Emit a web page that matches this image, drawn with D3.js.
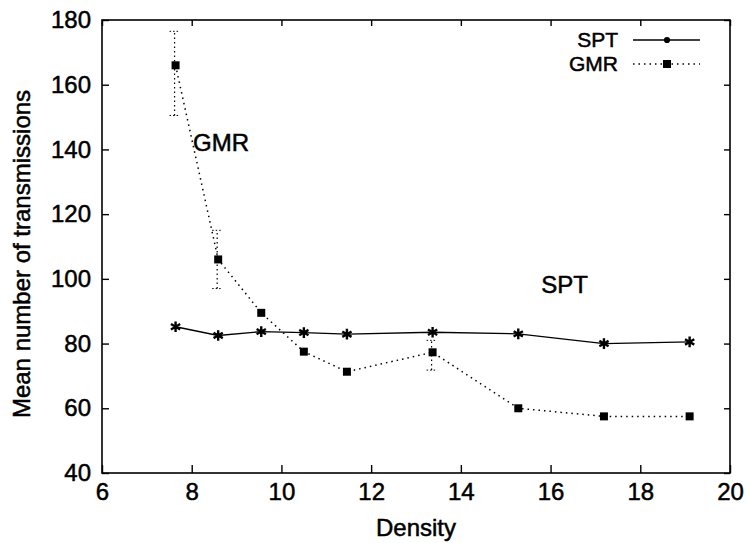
<!DOCTYPE html>
<html>
<head>
<meta charset="utf-8">
<script src="https://cdn.jsdelivr.net/npm/d3@7"></script>
<style>
  body { margin: 0; background: #fff; }
  text { font-family: "Liberation Sans", Arial, sans-serif; fill: #000; }
</style>
</head>
<body>
<svg id="chart"></svg>
<script>
// densities (x) and the two series
var density = [7.64, 8.59, 9.55, 10.50, 11.46, 13.37, 15.28, 17.19, 19.10];
var spt = [85.2, 82.5, 83.7, 83.4, 82.9, 83.5, 83, 80, 80.5];
var gmr = [166, 106, 89.5, 77.5, 71.3, 77.3, 60, 57.5, 57.5];
// GMR error bars (low, high), only where visible
var gmrErrX = [7.64, 8.59, 13.37];
var gmrErrLow = [150.5, 97, 71.8];
var gmrErrHigh = [176.5, 115, 81];

var xTicks = [6, 8, 10, 12, 14, 16, 18, 20];
var yTicks = [40, 60, 80, 100, 120, 140, 160, 180];

var width = 749,
    height = 543,
    margin = {top: 20, right: 19, bottom: 70, left: 102};

var x = d3.scaleLinear().domain([6, 20]).range([margin.left, width - margin.right]);
var y = d3.scaleLinear().domain([40, 180]).range([height - margin.bottom, margin.top]);

var svg = d3.select("#chart")
    .attr("width", width)
    .attr("height", height);

var fs = "24px";

function txt(sel) {
    return sel.style("font-size", fs).style("stroke", "#000").style("stroke-width", 0.5);
}

// frame
svg.append("rect")
    .attr("x", x(6)).attr("y", y(180))
    .attr("width", x(20) - x(6)).attr("height", y(40) - y(180))
    .style("fill", "none").style("stroke", "#000").style("stroke-width", 1.6);

// axes with inward ticks, mirrored on top/right
svg.append("g")
    .attr("transform", "translate(0," + y(40) + ")")
    .call(d3.axisBottom(x).tickValues(xTicks).tickSize(-8).tickPadding(10).tickFormat(d3.format("d")))
    .call(function (g) { g.select(".domain").remove(); });
svg.append("g")
    .attr("transform", "translate(0," + y(180) + ")")
    .call(d3.axisTop(x).tickValues(xTicks).tickSize(-6).tickFormat(""))
    .call(function (g) { g.select(".domain").remove(); });
svg.append("g")
    .attr("transform", "translate(" + x(6) + ",0)")
    .call(d3.axisLeft(y).tickValues(yTicks).tickSize(-7).tickPadding(11).tickFormat(d3.format("d")))
    .call(function (g) { g.select(".domain").remove(); });
svg.append("g")
    .attr("transform", "translate(" + x(20) + ",0)")
    .call(d3.axisRight(y).tickValues(yTicks).tickSize(-6).tickFormat(""))
    .call(function (g) { g.select(".domain").remove(); });

svg.selectAll(".tick line").style("stroke", "#000").style("stroke-width", 1.4);
svg.selectAll(".tick text")
    .style("font-family", "Liberation Sans, Arial, sans-serif")
    .call(txt);

// axis titles
svg.append("text")
    .attr("x", (x(6) + x(20)) / 2).attr("y", 536)
    .attr("text-anchor", "middle")
    .call(txt)
    .text("Density");
svg.append("text")
    .attr("transform", "translate(30,254) rotate(-90)")
    .attr("text-anchor", "middle")
    .call(txt)
    .text("Mean number of transmissions");

var line = d3.line()
    .x(function (d) { return x(d[0]); })
    .y(function (d) { return y(d[1]); });

var sptPts = density.map(function (d, i) { return [d, spt[i]]; });
var gmrPts = density.map(function (d, i) { return [d, gmr[i]]; });

// error bars for GMR
var err = svg.append("g");
gmrErrX.forEach(function (d, i) {
    err.append("line")
        .attr("x1", x(d) - 1).attr("x2", x(d) - 1)
        .attr("y1", y(gmrErrLow[i])).attr("y2", y(gmrErrHigh[i]))
        .style("stroke", "#000").style("stroke-width", 1.2).style("stroke-dasharray", "1.5,3");
    [gmrErrLow[i], gmrErrHigh[i]].forEach(function (v) {
        err.append("line")
            .attr("x1", x(d) - 6).attr("x2", x(d) + 4)
            .attr("y1", y(v)).attr("y2", y(v))
            .style("stroke", "#000").style("stroke-width", 1).style("stroke-dasharray", "1.5,2");
    });
});

svg.append("path")
    .datum(sptPts)
    .attr("d", line)
    .style("fill", "none").style("stroke", "#000").style("stroke-width", 1.3);

svg.append("path")
    .datum(gmrPts)
    .attr("d", line)
    .style("fill", "none").style("stroke", "#000").style("stroke-width", 1.5)
    .style("stroke-dasharray", "1.5,4");

var star = d3.symbol().type(d3.symbolAsterisk).size(80);
var sq = d3.symbol().type(d3.symbolSquare).size(64);

svg.append("g").selectAll("path")
    .data(sptPts).enter().append("path")
    .attr("transform", function (d) { return "translate(" + x(d[0]) + "," + y(d[1]) + ")"; })
    .attr("d", star)
    .style("fill", "none").style("stroke", "#000").style("stroke-width", 2.4);

svg.append("g").selectAll("path")
    .data(gmrPts).enter().append("path")
    .attr("transform", function (d) { return "translate(" + x(d[0]) + "," + y(d[1]) + ")"; })
    .attr("d", sq)
    .style("fill", "#000");

// in-plot labels
svg.append("text").attr("x", x(8.03)).attr("y", y(139.5)).call(txt).text("GMR");
svg.append("text").attr("x", x(15.79)).attr("y", y(95.6)).call(txt).text("SPT");

// legend
var leg = [{name: "SPT", dash: null, sym: d3.symbol().type(d3.symbolCircle).size(30)},
           {name: "GMR", dash: "1.5,4", sym: sq}];
leg.forEach(function (l, i) {
    var ly = 40 + i * 24;
    svg.append("text").attr("x", 618).attr("y", ly + 7).attr("text-anchor", "end")
        .call(txt).style("font-size", "21px").text(l.name);
    svg.append("line").attr("x1", 633).attr("x2", 700).attr("y1", ly).attr("y2", ly)
        .style("stroke", "#000").style("stroke-width", 1.3)
        .style("stroke-dasharray", l.dash);
    svg.append("path").attr("transform", "translate(667," + ly + ")")
        .attr("d", l.sym).style("fill", "#000");
});
</script>
</body>
</html>
